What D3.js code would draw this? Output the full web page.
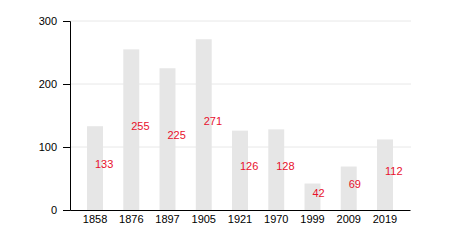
<!DOCTYPE html>
<html>
<head>
<meta charset="utf-8">
<script src="https://cdn.jsdelivr.net/npm/d3@7"></script>
<style>
  body { margin: 0; background: #fff; }
  text { font-family: "Liberation Sans", Arial, sans-serif; }
</style>
</head>
<body>
<script>
const width = 450;
const height = 250;
const margin = {top: 21, right: 40, bottom: 40, left: 70};

const years = ['1858', '1876', '1897', '1905', '1921', '1970', '1999', '2009', '2019'];
const values = [133, 255, 225, 271, 126, 128, 42, 69, 112];
const yTicks = [0, 100, 200, 300];

const data = years.map((y, i) => ({year: y, value: values[i]}));

const svg = d3.select('body').append('svg')
    .attr('width', width)
    .attr('height', height);

const x = d3.scaleBand()
    .domain(years)
    .range([margin.left, width - margin.right])
    .paddingInner(0.56)
    .paddingOuter(0.47);

const y = d3.scaleLinear()
    .domain([0, 300])
    .range([height - margin.bottom, margin.top]);

// grid lines
svg.append('g')
    .selectAll('line')
    .data(yTicks.slice(1))
    .join('line')
    .attr('x1', margin.left)
    .attr('x2', width - margin.right + 1)
    .attr('y1', d => y(d))
    .attr('y2', d => y(d))
    .attr('stroke', '#e8e8e8')
    .attr('stroke-width', 1);

// bars
svg.append('g')
    .selectAll('rect')
    .data(data)
    .join('rect')
    .attr('x', d => x(d.year))
    .attr('y', d => y(d.value))
    .attr('width', x.bandwidth())
    .attr('height', d => y(0) - y(d.value))
    .attr('fill', '#e6e6e6');

// value labels
svg.append('g')
    .selectAll('text')
    .data(data)
    .join('text')
    .attr('x', d => x(d.year) + x.bandwidth() / 2)
    .attr('y', d => y(d.value / 2))
    .attr('fill', '#e8112d')
    .attr('font-size', 11)
    .text(d => d.value);

// y axis
const yAxis = svg.append('g')
    .attr('transform', `translate(${margin.left},0)`)
    .call(d3.axisLeft(y).tickValues(yTicks).tickSizeOuter(0).tickSize(7).tickPadding(6));
yAxis.selectAll('text').attr('font-size', 11).attr('fill', '#000');

// x axis
const xAxis = svg.append('g')
    .attr('transform', `translate(0,${y(0)})`)
    .call(d3.axisBottom(x).tickSize(0).tickSizeOuter(0).tickPadding(5));
xAxis.selectAll('text').attr('font-size', 11).attr('fill', '#000');
</script>
</body>
</html>
